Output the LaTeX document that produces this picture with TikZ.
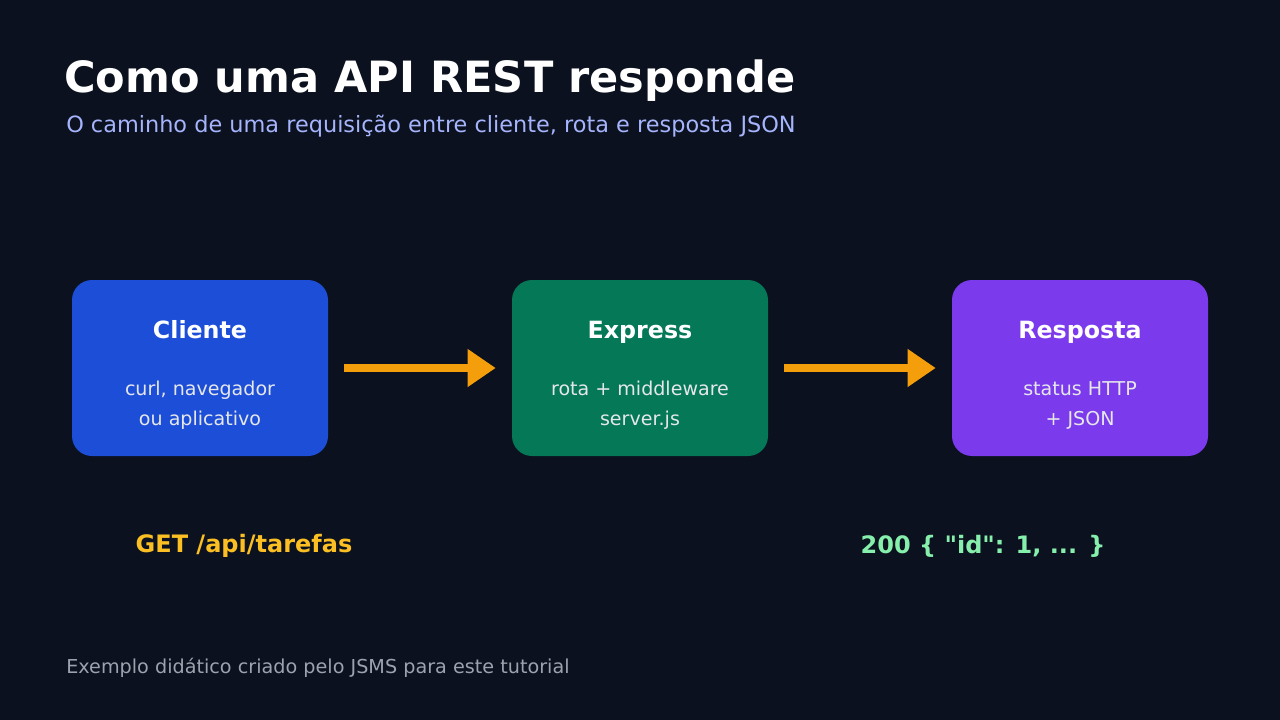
\documentclass[tikz,border=0pt]{standalone}
\usepackage{fontspec}
\setmainfont{DejaVu Sans}
\usetikzlibrary{arrows.meta,positioning}
\definecolor{bgdark}{HTML}{0B111E}
\definecolor{cblue}{HTML}{1D4ED8}
\definecolor{cgreen}{HTML}{047857}
\definecolor{cpurple}{HTML}{7C3AED}
\definecolor{corange}{HTML}{F59E0B}
\definecolor{csub}{HTML}{A5B4FC}
\definecolor{cget}{HTML}{FBBF24}
\definecolor{cok}{HTML}{86EFAC}
\definecolor{cfoot}{HTML}{9CA3AF}
\definecolor{cline}{HTML}{E5E7EB}
\tikzset{
  box/.style={rounded corners=15pt, minimum width=192pt, minimum height=132pt, inner sep=0pt},
  boxtitle/.style={text=white, anchor=base, inner sep=0pt, font=\fontsize{17.8}{21}\selectfont\bfseries},
  boxtext/.style={text=cline, font=\fontsize{14.3}{22.5}\selectfont, align=center},
  flow/.style={corange, line width=6pt, -{Triangle[length=21pt,width=27pt]}}
}
\begin{document}
\begin{tikzpicture}[x=0.75pt,y=-0.75pt]
\fill[bgdark] (0,0) rectangle (1280,720);
\useasboundingbox (0,0) rectangle (1280,720);
% titulo
\node[anchor=base west, inner sep=0pt, text=white, font=\fontsize{32.3}{38}\selectfont\bfseries] (title) at (64,93) {Como uma API REST responde};
\node[anchor=base west, inner sep=0pt, text=csub, font=\fontsize{16.8}{20}\selectfont] (sub) at (66,133) {O caminho de uma requisição entre cliente, rota e resposta JSON};
% caixas
\node[box, fill=cblue] (cli) at (200,368) {};
\node[box, fill=cgreen] (exp) at (640,368) {};
\node[box, fill=cpurple] (res) at (1080,368) {};
\foreach \b/\t/\l in {cli/Cliente/{curl, navegador\\ou aplicativo}, exp/Express/{rota + middleware\\server.js}, res/Resposta/{status HTTP\\+ JSON}}{
  \node[boxtitle] (\b t) at ([yshift=-44pt]\b.north) {\t};
  \node[boxtext] (\b l) at ([yshift=-28pt]\b.center) {\l};
}
% setas
\draw[flow] ([xshift=12pt]cli.east) -- ([xshift=-12pt]exp.west);
\draw[flow] ([xshift=12pt]exp.east) -- ([xshift=-12pt]res.west);
% rotulos
\node[text=cget, font=\fontsize{18}{21}\selectfont\bfseries] (get) at (244,546) {GET /api/tarefas};
\node[text=cok, font=\fontsize{18}{21}\selectfont\bfseries] (ok) at (983,546) {200 \{ \textquotedbl id\textquotedbl: 1, ... \}};
\node[anchor=base west, inner sep=0pt, text=cfoot, font=\fontsize{14.4}{17}\selectfont] (foot) at (66,673) {Exemplo didático criado pelo JSMS para este tutorial};
\end{tikzpicture}
\end{document}
